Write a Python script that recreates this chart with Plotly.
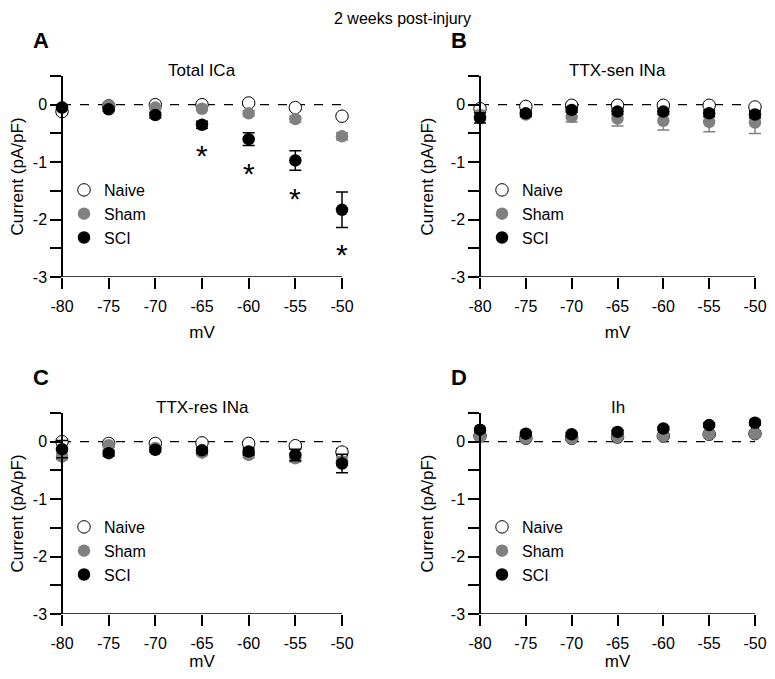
import plotly.graph_objects as go

# ---------------- data ----------------
voltages = [-80, -75, -70, -65, -60, -55, -50]
x_ticktext = ["-80", "-75", "-70", "-65", "-60", "-55", "-50"]
y_tickvals = [-3, -2.5, -2, -1.5, -1, -0.5, 0, 0.5]
y_ticktext = ["-3", "", "-2", "", "-1", "", "0", ""]
groups = ["Naive", "Sham", "SCI"]
panel_titles = ["Total ICa", "TTX-sen INa", "TTX-res INa", "Ih"]
panel_letters = ["A", "B", "C", "D"]

# A: Total ICa
ica_naive = [-0.12, -0.02, 0.00, 0.00, 0.03, -0.05, -0.20]
ica_naive_err = [0.03, 0.02, 0.02, 0.02, 0.02, 0.03, 0.04]
ica_sham = [-0.05, -0.02, -0.05, -0.07, -0.15, -0.25, -0.55]
ica_sham_err = [0.03, 0.02, 0.03, 0.03, 0.04, 0.05, 0.06]
ica_sci = [-0.05, -0.08, -0.18, -0.35, -0.60, -0.97, -1.83]
ica_sci_err = [0.03, 0.03, 0.05, 0.06, 0.11, 0.17, 0.31]
ica_sig_x = [-65, -60, -55, -50]
ica_sig_y = [-0.83, -1.14, -1.58, -2.55]

# B: TTX-sensitive INa
ttxs_naive = [-0.07, -0.03, -0.01, -0.01, -0.01, -0.01, -0.04]
ttxs_naive_err = [0.03, 0.02, 0.02, 0.02, 0.02, 0.02, 0.03]
ttxs_sham = [-0.18, -0.17, -0.21, -0.24, -0.28, -0.30, -0.31]
ttxs_sham_err = [0.08, 0.05, 0.09, 0.13, 0.16, 0.17, 0.19]
ttxs_sci = [-0.23, -0.15, -0.09, -0.12, -0.12, -0.15, -0.17]
ttxs_sci_err = [0.09, 0.05, 0.04, 0.05, 0.05, 0.06, 0.06]

# C: TTX-resistant INa
ttxr_naive = [0.00, -0.03, -0.03, -0.02, -0.03, -0.07, -0.18]
ttxr_naive_err = [0.04, 0.03, 0.03, 0.03, 0.03, 0.04, 0.06]
ttxr_sham = [-0.26, -0.06, -0.11, -0.19, -0.23, -0.29, -0.34]
ttxr_sham_err = [0.05, 0.04, 0.04, 0.05, 0.05, 0.06, 0.07]
ttxr_sci = [-0.13, -0.20, -0.14, -0.15, -0.17, -0.23, -0.38]
ttxr_sci_err = [0.15, 0.05, 0.04, 0.05, 0.06, 0.10, 0.16]

# D: Ih
ih_naive = [0.10, 0.06, 0.06, 0.08, 0.10, 0.13, 0.14]
ih_naive_err = [0.02, 0.02, 0.02, 0.02, 0.02, 0.02, 0.02]
ih_sham = [0.09, 0.06, 0.06, 0.08, 0.10, 0.13, 0.14]
ih_sham_err = [0.02, 0.02, 0.02, 0.02, 0.02, 0.02, 0.02]
ih_sci = [0.21, 0.14, 0.13, 0.17, 0.23, 0.29, 0.33]
ih_sci_err = [0.03, 0.03, 0.03, 0.03, 0.03, 0.04, 0.04]

panels = [
    (ica_naive, ica_naive_err, ica_sham, ica_sham_err, ica_sci, ica_sci_err),
    (ttxs_naive, ttxs_naive_err, ttxs_sham, ttxs_sham_err, ttxs_sci, ttxs_sci_err),
    (ttxr_naive, ttxr_naive_err, ttxr_sham, ttxr_sham_err, ttxr_sci, ttxr_sci_err),
    (ih_naive, ih_naive_err, ih_sham, ih_sham_err, ih_sci, ih_sci_err),
]

# ---------------- layout geometry ----------------
OFF = 8                     # default page margin around the plot div
W, H = 775 - OFF, 679 - 2 * OFF
FONT = "Liberation Sans, Arial, Helvetica, sans-serif"


def px_x(p):
    return (p - OFF) / W


def px_y(p):
    return 1 - (p - OFF) / H


XPAD = 0.75                 # x-range padding (mV) so end error-bar caps are not clipped
x_left_px = [62, 480, 62, 480]
x_right_px = [342, 755, 342, 755]
y_top_px = [76, 76, 413, 413]
PLOT_H = 201
xtitle_standoff = [11, 11, 9, 9]

styles = {
    "Naive": dict(color="white", line=dict(color="black", width=1)),
    "Sham": dict(color="#808080", line=dict(color="#808080", width=0)),
    "SCI": dict(color="black", line=dict(color="black", width=0)),
}
err_colors = {"Naive": "black", "Sham": "#808080", "SCI": "black"}

fig = go.Figure()
legend_names = ["legend", "legend2", "legend3", "legend4"]

for i, data in enumerate(panels):
    xa = "x" if i == 0 else f"x{i+1}"
    ya = "y" if i == 0 else f"y{i+1}"
    series = [(groups[0], data[0], data[1]), (groups[1], data[2], data[3]), (groups[2], data[4], data[5])]
    for name, vals, errs in series:
        fig.add_trace(go.Scatter(
            x=voltages, y=vals, mode="markers", name=name,
            marker=dict(size=12.5, **styles[name]),
            error_y=dict(type="data", array=errs, visible=True, color=err_colors[name],
                         thickness=1.5, width=6),
            xaxis=xa, yaxis=ya, cliponaxis=False, legend=legend_names[i],
        ))

tick_font = dict(size=16, color="black", family=FONT)
title_font = dict(size=17, color="black", family=FONT)

layout = dict(width=W, height=H, margin=dict(l=0, r=0, t=0, b=0, pad=0),
              paper_bgcolor="white", plot_bgcolor="rgba(0,0,0,0)",
              font=dict(family=FONT, color="black"), showlegend=True)

annotations = []
shapes = []
for i in range(4):
    sfx = "" if i == 0 else str(i + 1)
    xl, xr, yt = x_left_px[i], x_right_px[i], y_top_px[i]
    pad_px = XPAD * (xr - xl) / (voltages[-1] - voltages[0])
    layout[f"xaxis{sfx}"] = dict(
        domain=[px_x(xl - pad_px), px_x(xr + pad_px)], anchor=f"y{sfx}",
        range=[voltages[0] - XPAD, voltages[-1] + XPAD], tickvals=voltages, ticktext=x_ticktext,
        ticks="outside", ticklen=11, tickwidth=1.5, tickcolor="black", ticklabeloverflow="allow",
        ticklabelstandoff=4,
        showline=False, showgrid=False, zeroline=False, automargin=False,
        tickfont=tick_font, title=dict(text="mV", font=title_font, standoff=xtitle_standoff[i]))
    layout[f"yaxis{sfx}"] = dict(
        domain=[px_y(yt + PLOT_H), px_y(yt)], anchor="free", position=px_x(xl),
        range=[-3, 0.5], tickvals=y_tickvals, ticktext=y_ticktext,
        ticks="outside", ticklen=11, tickwidth=1.5, tickcolor="black",
        showline=True, linecolor="black", linewidth=1.5,
        showgrid=False, zeroline=False, automargin=False,
        tickfont=tick_font, title=dict(text="Current (pA/pF)", font=title_font, standoff=12))
    layout[legend_names[i]] = dict(
        x=px_x(xl + 2), y=px_y(yt + 97), xanchor="left", yanchor="top",
        bgcolor="rgba(0,0,0,0)", font=dict(size=16, color="black", family=FONT),
        tracegroupgap=0, itemclick=False, itemdoubleclick=False)
    # x-axis line spanning exactly the voltage range
    shapes.append(dict(type="line", xref=f"x{sfx}", yref=f"y{sfx}", x0=voltages[0], x1=voltages[-1],
                       y0=-3, y1=-3, line=dict(color="black", width=1.5), layer="above"))
    # dashed zero line
    shapes.append(dict(type="line", xref=f"x{sfx}", yref=f"y{sfx}", x0=voltages[0], x1=voltages[-1],
                       y0=0, y1=0, line=dict(color="black", width=1.2, dash="dash"), layer="below"))
    # subplot title
    annotations.append(dict(text=panel_titles[i], xref="paper", yref="paper",
                            x=px_x((xl + xr) / 2), y=px_y(yt - 6), xanchor="center", yanchor="middle",
                            showarrow=False, font=title_font))
    # panel letter
    annotations.append(dict(text=f"<b>{panel_letters[i]}</b>", xref="paper", yref="paper",
                            x=px_x(xl - 31), y=px_y(yt - 36), xanchor="left", yanchor="middle",
                            showarrow=False, font=dict(size=22, color="black", family=FONT)))

# significance asterisks (panel A)
for sx, sy in zip(ica_sig_x, ica_sig_y):
    annotations.append(dict(text="*", xref="x", yref="y", x=sx, y=sy, xanchor="center",
                            yanchor="middle", yshift=-3, showarrow=False,
                            font=dict(size=30, color="black", family=FONT)))

annotations.append(dict(text="2 weeks post-injury", xref="paper", yref="paper", x=px_x(402),
                        y=1.0, xanchor="center", yanchor="top", showarrow=False,
                        font=dict(size=16, color="black", family=FONT)))

layout["annotations"] = annotations
layout["shapes"] = shapes
fig.update_layout(**layout)

fig.write_html("out.html")
